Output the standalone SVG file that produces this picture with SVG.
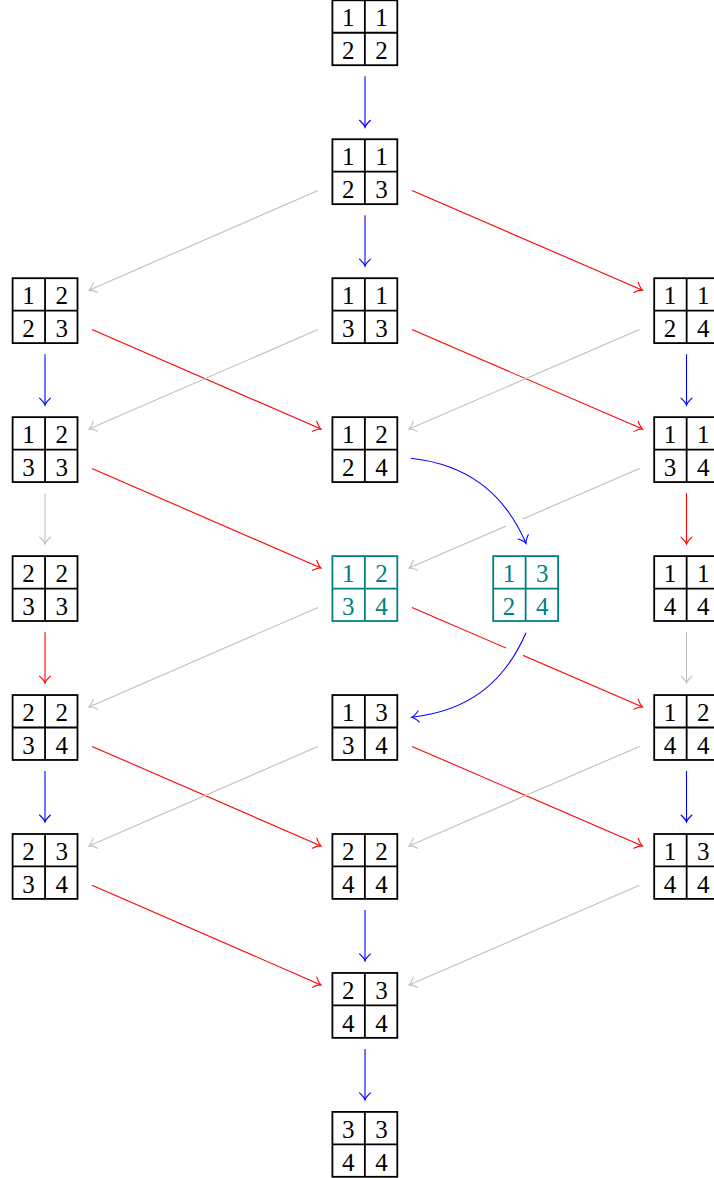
<svg xmlns="http://www.w3.org/2000/svg" xmlns:xlink="http://www.w3.org/1999/xlink" width="714" height="1178" viewBox="0 0 714 1178">
<style>
.frm{stroke:#000;stroke-width:1.8;fill:none}
.teal .frm{stroke:#008080}
.d{font-family:"Liberation Serif","Times New Roman",serif;font-size:25px;text-anchor:middle;fill:#000}
.teal .d{fill:#008080}
.e{fill:none;stroke-width:1.1}
.gray{stroke:#BFBFBF;marker-end:url(#ag)}
.red{stroke:#FF0000;marker-end:url(#ar)}
.blue{stroke:#0000FF;marker-end:url(#ab)}
.halo{fill:none;stroke:#fff;stroke-width:18}
</style>
<defs>
<g id="frame"><rect x="0.9" y="0.9" width="64.9" height="64.9"/><path d="M33.35 0.9V65.8M0.9 33.35H65.8"/></g>
<marker id="ag" markerUnits="userSpaceOnUse" orient="auto" refX="0" refY="0" markerWidth="12" markerHeight="14" viewBox="-9 -7 10 14" overflow="visible"><path d="M-7 -5.5 Q-3 -1 0 0 Q-3 1 -7 5.5" fill="none" stroke="#BFBFBF" stroke-width="1.1" stroke-linecap="round"/></marker>
<marker id="ar" markerUnits="userSpaceOnUse" orient="auto" refX="0" refY="0" markerWidth="12" markerHeight="14" viewBox="-9 -7 10 14" overflow="visible"><path d="M-7 -5.5 Q-3 -1 0 0 Q-3 1 -7 5.5" fill="none" stroke="#FF0000" stroke-width="1.1" stroke-linecap="round"/></marker>
<marker id="ab" markerUnits="userSpaceOnUse" orient="auto" refX="0" refY="0" markerWidth="12" markerHeight="14" viewBox="-9 -7 10 14" overflow="visible"><path d="M-7 -5.5 Q-3 -1 0 0 Q-3 1 -7 5.5" fill="none" stroke="#0000FF" stroke-width="1.1" stroke-linecap="round"/></marker>
</defs>
<rect width="714" height="1178" fill="#fff"/>
<g id="connectors">
<path class="e gray" d="M318 190.6L89 290.15"/>
<path class="e red" d="M412 190.6L642.5 290.15"/>
<path class="e red" d="M92 329.55L321 429.1"/>
<path class="e gray" d="M318 329.55L89 429.1"/>
<path class="e red" d="M412 329.55L642.5 429.1"/>
<path class="e gray" d="M639.5 329.55L409 429.1"/>
<path class="e red" d="M92 468.5L321 568.05"/>
<path class="e gray" d="M639.5 468.5L409 568.05"/>
<path class="e gray" d="M318 607.45L89 707"/>
<path class="e red" d="M412 607.45L642.5 707"/>
<path class="e red" d="M92 746.4L321 845.95"/>
<path class="e gray" d="M318 746.4L89 845.95"/>
<path class="e red" d="M412 746.4L642.5 845.95"/>
<path class="e gray" d="M639.5 746.4L409 845.95"/>
<path class="e red" d="M92 885.35L321 984.9"/>
<path class="e gray" d="M639.5 885.35L409 984.9"/>
<path class="e blue" d="M365 76.3V127.25"/>
<path class="e blue" d="M365 215.25V266.2"/>
<path class="e blue" d="M45 354.2V405.15"/>
<path class="e blue" d="M686.5 354.2V405.15"/>
<path class="e gray" d="M45 493.15V544.1"/>
<path class="e red" d="M686.5 493.15V544.1"/>
<path class="e red" d="M45 632.1V683.05"/>
<path class="e gray" d="M686.5 632.1V683.05"/>
<path class="e blue" d="M45 771.05V822"/>
<path class="e blue" d="M686.5 771.05V822"/>
<path class="e blue" d="M365 910V960.95"/>
<path class="e blue" d="M365 1048.95V1099.9"/>
<path class="halo" d="M420 459.5C450 465 497 488 521 534"/>
<path class="halo" d="M521 641C500 680 470 708 421 715.5"/>
<path class="e blue" d="M411 458.3C466.6 464.6 503.7 491.9 526 543.3"/>
<path class="e blue" d="M526 632.7C503.7 684.1 467.3 711 411.7 717.3"/>
</g>
<g id="n1122" transform="translate(331.5,-0.6)"><use href="#frame" class="frm"/><text class="d" x="16.7" y="27">1</text><text class="d" x="50" y="27">1</text><text class="d" x="16.7" y="60">2</text><text class="d" x="50" y="60">2</text></g>
<g id="n1123" transform="translate(331.5,138.35)"><use href="#frame" class="frm"/><text class="d" x="16.7" y="27">1</text><text class="d" x="50" y="27">1</text><text class="d" x="16.7" y="60">2</text><text class="d" x="50" y="60">3</text></g>
<g id="n1223" transform="translate(11.7,277.3)"><use href="#frame" class="frm"/><text class="d" x="16.7" y="27">1</text><text class="d" x="50" y="27">2</text><text class="d" x="16.7" y="60">2</text><text class="d" x="50" y="60">3</text></g>
<g id="n1133" transform="translate(331.5,277.3)"><use href="#frame" class="frm"/><text class="d" x="16.7" y="27">1</text><text class="d" x="50" y="27">1</text><text class="d" x="16.7" y="60">3</text><text class="d" x="50" y="60">3</text></g>
<g id="n1124" transform="translate(653.3,277.3)"><use href="#frame" class="frm"/><text class="d" x="16.7" y="27">1</text><text class="d" x="50" y="27">1</text><text class="d" x="16.7" y="60">2</text><text class="d" x="50" y="60">4</text></g>
<g id="n1233" transform="translate(11.7,416.25)"><use href="#frame" class="frm"/><text class="d" x="16.7" y="27">1</text><text class="d" x="50" y="27">2</text><text class="d" x="16.7" y="60">3</text><text class="d" x="50" y="60">3</text></g>
<g id="n1224" transform="translate(331.5,416.25)"><use href="#frame" class="frm"/><text class="d" x="16.7" y="27">1</text><text class="d" x="50" y="27">2</text><text class="d" x="16.7" y="60">2</text><text class="d" x="50" y="60">4</text></g>
<g id="n1134" transform="translate(653.3,416.25)"><use href="#frame" class="frm"/><text class="d" x="16.7" y="27">1</text><text class="d" x="50" y="27">1</text><text class="d" x="16.7" y="60">3</text><text class="d" x="50" y="60">4</text></g>
<g id="n2233" transform="translate(11.7,555.2)"><use href="#frame" class="frm"/><text class="d" x="16.7" y="27">2</text><text class="d" x="50" y="27">2</text><text class="d" x="16.7" y="60">3</text><text class="d" x="50" y="60">3</text></g>
<g id="n1234" class="teal" transform="translate(331.5,555.2)"><use href="#frame" class="frm"/><text class="d" x="16.7" y="27">1</text><text class="d" x="50" y="27">2</text><text class="d" x="16.7" y="60">3</text><text class="d" x="50" y="60">4</text></g>
<g id="n1324" class="teal" transform="translate(492.3,555.2)"><use href="#frame" class="frm"/><text class="d" x="16.7" y="27">1</text><text class="d" x="50" y="27">3</text><text class="d" x="16.7" y="60">2</text><text class="d" x="50" y="60">4</text></g>
<g id="n1144" transform="translate(653.3,555.2)"><use href="#frame" class="frm"/><text class="d" x="16.7" y="27">1</text><text class="d" x="50" y="27">1</text><text class="d" x="16.7" y="60">4</text><text class="d" x="50" y="60">4</text></g>
<g id="n2234" transform="translate(11.7,694.15)"><use href="#frame" class="frm"/><text class="d" x="16.7" y="27">2</text><text class="d" x="50" y="27">2</text><text class="d" x="16.7" y="60">3</text><text class="d" x="50" y="60">4</text></g>
<g id="n1334" transform="translate(331.5,694.15)"><use href="#frame" class="frm"/><text class="d" x="16.7" y="27">1</text><text class="d" x="50" y="27">3</text><text class="d" x="16.7" y="60">3</text><text class="d" x="50" y="60">4</text></g>
<g id="n1244" transform="translate(653.3,694.15)"><use href="#frame" class="frm"/><text class="d" x="16.7" y="27">1</text><text class="d" x="50" y="27">2</text><text class="d" x="16.7" y="60">4</text><text class="d" x="50" y="60">4</text></g>
<g id="n2334" transform="translate(11.7,833.1)"><use href="#frame" class="frm"/><text class="d" x="16.7" y="27">2</text><text class="d" x="50" y="27">3</text><text class="d" x="16.7" y="60">3</text><text class="d" x="50" y="60">4</text></g>
<g id="n2244" transform="translate(331.5,833.1)"><use href="#frame" class="frm"/><text class="d" x="16.7" y="27">2</text><text class="d" x="50" y="27">2</text><text class="d" x="16.7" y="60">4</text><text class="d" x="50" y="60">4</text></g>
<g id="n1344" transform="translate(653.3,833.1)"><use href="#frame" class="frm"/><text class="d" x="16.7" y="27">1</text><text class="d" x="50" y="27">3</text><text class="d" x="16.7" y="60">4</text><text class="d" x="50" y="60">4</text></g>
<g id="n2344" transform="translate(331.5,972.05)"><use href="#frame" class="frm"/><text class="d" x="16.7" y="27">2</text><text class="d" x="50" y="27">3</text><text class="d" x="16.7" y="60">4</text><text class="d" x="50" y="60">4</text></g>
<g id="n3344" transform="translate(331.5,1111)"><use href="#frame" class="frm"/><text class="d" x="16.7" y="27">3</text><text class="d" x="50" y="27">3</text><text class="d" x="16.7" y="60">4</text><text class="d" x="50" y="60">4</text></g>
</svg>
